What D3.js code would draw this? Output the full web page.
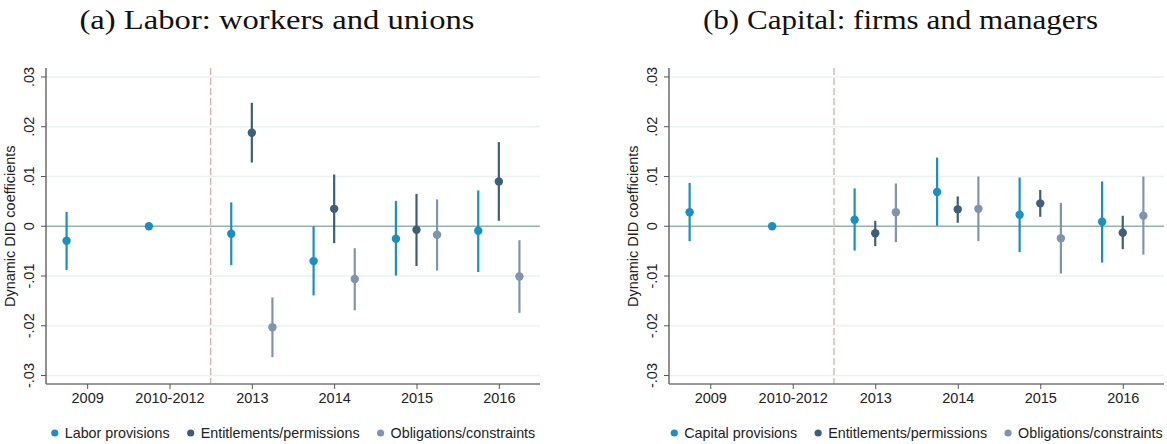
<!DOCTYPE html>
<html><head><meta charset="utf-8">
<script src="https://cdn.jsdelivr.net/npm/d3@7"></script>
<style>body{margin:0;background:#fff}svg{display:block}</style>
</head><body>
<svg id="c" width="1167" height="444"></svg>
<script>
const categories = ["2009","2010-2012","2013","2014","2015","2016"];
const yTicks = [-0.03,-0.02,-0.01,0,0.01,0.02,0.03];
const yTickLabels = ["-.03","-.02","-.01","0",".01",".02",".03"];
const panelTitles = ["(a) Labor: workers and unions","(b) Capital: firms and managers"];
const seriesNamesA = ["Labor provisions","Entitlements/permissions","Obligations/constraints"];
const seriesNamesB = ["Capital provisions","Entitlements/permissions","Obligations/constraints"];
const seriesOffsets = [-0.25, 0, 0.25];
const colors = ["#1a8fc4","#3e5f7a","#8095ab"];

// Panel (a)
const laborProv   = [-0.0029, 0, -0.0015, -0.0070, -0.0025, -0.0009];
const laborProvLo = [-0.0088, null, -0.0078, -0.0139, -0.0099, -0.0092];
const laborProvHi = [ 0.0029, null,  0.0048,  0.0000,  0.0051,  0.0072];
const laborEnt    = [null, null, 0.0188, 0.0035, -0.0007, 0.0090];
const laborEntLo  = [null, null, 0.0128, -0.0034, -0.0080, 0.0011];
const laborEntHi  = [null, null, 0.0248, 0.0104, 0.0065, 0.0169];
const laborObl    = [null, null, -0.0203, -0.0106, -0.0017, -0.0101];
const laborOblLo  = [null, null, -0.0263, -0.0169, -0.0089, -0.0174];
const laborOblHi  = [null, null, -0.0143, -0.0044, 0.0054, -0.0028];

// Panel (b)
const capProv   = [0.0028, 0, 0.0013, 0.0069, 0.0023, 0.0009];
const capProvLo = [-0.0030, null, -0.0049, 0.0001, -0.0052, -0.0073];
const capProvHi = [0.0087, null, 0.0076, 0.0138, 0.0098, 0.0090];
const capEnt    = [null, null, -0.0014, 0.0034, 0.0046, -0.0013];
const capEntLo  = [null, null, -0.0040, 0.0007, 0.0019, -0.0046];
const capEntHi  = [null, null, 0.0011, 0.0060, 0.0073, 0.0021];
const capObl    = [null, null, 0.0028, 0.0035, -0.0024, 0.0021];
const capOblLo  = [null, null, -0.0032, -0.0030, -0.0095, -0.0057];
const capOblHi  = [null, null, 0.0086, 0.0100, 0.0047, 0.0100];

const panels = [
  {x0:46, x1:540, title:panelTitles[0], names:seriesNamesA,
   series:[[laborProv,laborProvLo,laborProvHi],[laborEnt,laborEntLo,laborEntHi],[laborObl,laborOblLo,laborOblHi]]},
  {x0:669, x1:1164, title:panelTitles[1], names:seriesNamesB,
   series:[[capProv,capProvLo,capProvHi],[capEnt,capEntLo,capEntHi],[capObl,capOblLo,capOblHi]]}
];

const svg = d3.select("#c");
const yTop = 68, yBot = 384;
const font = "'Liberation Sans', Arial, sans-serif";

panels.forEach(p => {
  const g = svg.append("g");
  const x = d3.scaleLinear().domain([-0.5, 5.5]).range([p.x0, p.x1]);
  const y = d3.scaleLinear().domain([-0.0317, 0.0318]).range([yBot, yTop]);

  // title
  g.append("text").attr("x", (p.x0 + p.x1)/2 - 16).attr("y", 29)
    .attr("text-anchor","middle").attr("font-family","'Liberation Serif','Times New Roman',serif")
    .attr("font-size", 27).attr("fill","#111")
    .attr("textLength", 395).attr("lengthAdjust","spacingAndGlyphs").text(p.title);

  // gridlines
  g.selectAll(".grid").data(yTicks.filter(t => t !== 0)).enter().append("line")
    .attr("x1", p.x0).attr("x2", p.x1).attr("y1", d => y(d)).attr("y2", d => y(d))
    .attr("stroke","#eaf2f2").attr("stroke-width",1.5);
  // zero line
  g.append("line").attr("x1", p.x0).attr("x2", p.x1).attr("y1", y(0)).attr("y2", y(0))
    .attr("stroke","#93b3ad").attr("stroke-width",1.3);
  // dashed line
  g.append("line").attr("x1", x(1.5)).attr("x2", x(1.5)).attr("y1", yTop).attr("y2", yBot)
    .attr("stroke","#d6b0a9").attr("stroke-width",1.3).attr("stroke-dasharray","7,3");

  // y axis
  const yAxis = d3.axisLeft(y).tickValues(yTicks).tickSize(5)
    .tickFormat((d,i) => yTickLabels[i]);
  const ya = g.append("g").attr("transform", `translate(${p.x0},0)`).call(yAxis);
  ya.select(".domain").attr("stroke","#555").attr("stroke-width",1.3).attr("d", `M-0,${yTop}V${yBot}`);
  ya.selectAll(".tick").attr("transform", null);
  ya.selectAll(".tick line").attr("stroke","#555").attr("y1", d => y(d)).attr("y2", d => y(d));
  ya.selectAll(".tick text").attr("font-family", font).attr("font-size", 14.5).attr("fill","#222")
    .attr("text-anchor","middle").attr("dy", null)
    .attr("transform","rotate(-90)").attr("x", d => -y(d)).attr("y", -12);

  // y title
  g.append("text").attr("transform", `translate(${p.x0 - 31},${y(0)}) rotate(-90)`)
    .attr("text-anchor","middle").attr("font-family", font).attr("font-size", 14.5)
    .attr("fill","#222").text("Dynamic DID coefficients");

  // x axis
  const xAxis = d3.axisBottom(x).tickValues(d3.range(categories.length)).tickSize(5)
    .tickFormat(i => categories[i]);
  const xa = g.append("g").attr("transform", `translate(0,${yBot})`).call(xAxis);
  xa.select(".domain").attr("stroke","#777").attr("stroke-width",1.3).attr("d", `M${p.x0},0H${p.x1}`);
  xa.selectAll(".tick line").attr("stroke","#555");
  xa.selectAll(".tick text").attr("font-family", font).attr("font-size", 14.5).attr("fill","#222").attr("y", 9);

  // series
  p.series.forEach((s, k) => {
    const [v, lo, hi] = s;
    const pts = v.map((val, i) => ({i, val, lo: lo[i], hi: hi[i]})).filter(d => d.val !== null);
    g.selectAll(null).data(pts.filter(d => d.lo !== null)).enter().append("line")
      .attr("x1", d => x(d.i + seriesOffsets[k])).attr("x2", d => x(d.i + seriesOffsets[k]))
      .attr("y1", d => y(d.lo)).attr("y2", d => y(d.hi))
      .attr("stroke", colors[k]).attr("stroke-width", 2.2);
    g.selectAll(null).data(pts).enter().append("circle")
      .attr("cx", d => x(d.i + seriesOffsets[k])).attr("cy", d => y(d.val)).attr("r", 4.2)
      .attr("fill", colors[k]);
  });

  // legend
  const lg = g.append("g");
  const items = [];
  p.names.forEach((n, k) => {
    const it = lg.append("g");
    it.append("circle").attr("cx", 0).attr("cy", 0).attr("r", 3.6).attr("fill", colors[k]);
    const t = it.append("text").attr("x", 10).attr("y", 5).attr("font-family", font)
      .attr("font-size", 14.3).attr("fill","#222").text(n);
    const w = 10 + t.node().getComputedTextLength();
    items.push({it, w});
  });
  const gap = 21;
  const total = d3.sum(items, d => d.w) + gap * (items.length - 1) + 4;
  let start = (p.x0 + p.x1)/2 - total/2 + 4;
  items.forEach(d => { d.it.attr("transform", `translate(${start},${433})`); start += d.w + gap; });
});
</script>
</body></html>
